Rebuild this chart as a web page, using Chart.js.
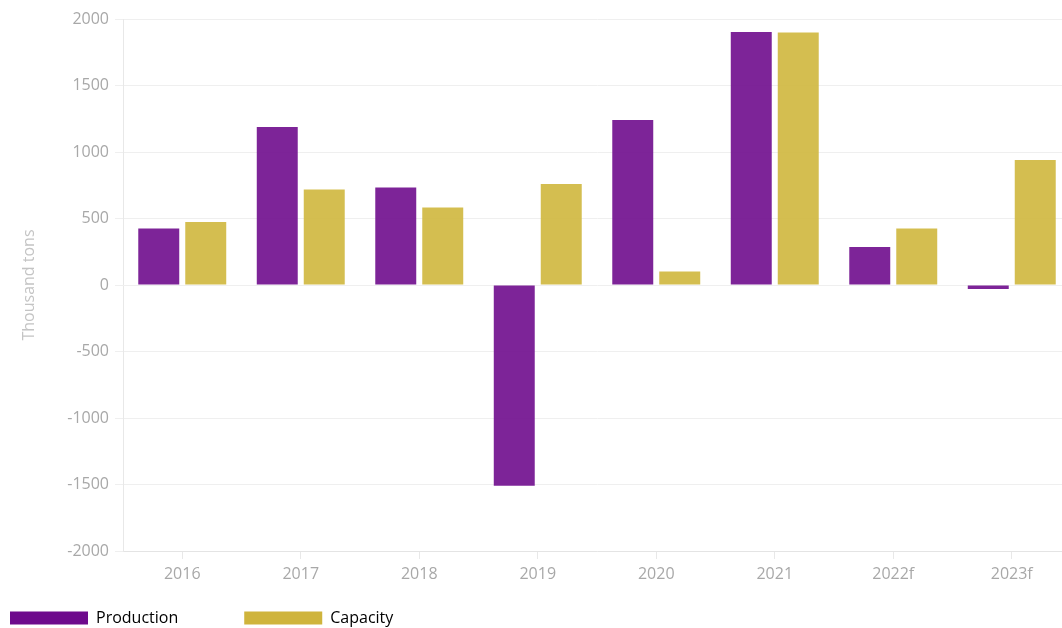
<!DOCTYPE html>
<html>
<head>
<meta charset="utf-8">
<script src="https://cdn.jsdelivr.net/npm/chart.js@4.4.0/dist/chart.umd.min.js"></script>
<style>
  html, body { margin: 0; padding: 0; overflow: hidden; background: #fff; width: 1062px; height: 628px; }
  #wrap { width: 1072px; height: 636px; position: relative; }
</style>
</head>
<body>
<div id="wrap"><canvas id="c" width="1072" height="636"></canvas></div>
<script>
const categories = ['2016', '2017', '2018', '2019', '2020', '2021', '2022f', '2023f'];
const production = [425, 1188, 733, -1510, 1240, 1903, 285, -30];
const capacity = [474, 718, 583, 760, 101, 1898, 425, 940];
const yTicks = [-2000, -1500, -1000, -500, 0, 500, 1000, 1500, 2000];
const seriesNames = ['Production', 'Capacity'];
const yTitle = 'Thousand tons';

const FONT = "'Open Sans', 'Lato', sans-serif";
const barColors = ['rgba(111,12,141,0.9)', 'rgba(207,183,61,0.9)'];
const legendColors = ['#6e0a8c', '#cfb43c'];

new Chart(document.getElementById('c'), {
  type: 'bar',
  data: {
    labels: categories,
    datasets: [
      { label: seriesNames[0], data: production, backgroundColor: barColors[0], categoryPercentage: 0.793, barPercentage: 0.872 },
      { label: seriesNames[1], data: capacity, backgroundColor: barColors[1], categoryPercentage: 0.793, barPercentage: 0.872 }
    ]
  },
  options: {
    responsive: false,
    animation: false,
    layout: { padding: { top: 19, right: 1, bottom: 0, left: 0 } },
    plugins: {
      tooltip: { enabled: false },
      legend: {
        position: 'bottom',
        align: 'start',
        labels: {
          boxWidth: 78,
          boxHeight: 13,
          useBorderRadius: true,
          borderRadius: 3,
          padding: 10,
          color: '#9a9a9a',
          font: { family: FONT, size: 16 },
          generateLabels: (chart) => chart.data.datasets.map((ds, i) => ({
            text: i === 0 ? ds.label + '\u2003\u2003\u2003\u2002' : ds.label,
            fillStyle: legendColors[i],
            strokeStyle: legendColors[i],
            lineWidth: 0,
            hidden: false,
            datasetIndex: i
          }))
        }
      }
    },
    scales: {
      x: {
        offset: true,
        grid: { display: true, offset: false, drawOnChartArea: false, drawTicks: true, tickLength: 8, color: '#e8e8e8' },
        border: { display: true, color: '#e4e4e4' },
        ticks: { color: '#a8a8a8', font: { family: FONT, size: 16 }, padding: 6, maxRotation: 0 },
        afterFit: (s) => { s.height = 49; }
      },
      y: {
        min: -2000,
        max: 2000,
        afterBuildTicks: (s) => { s.ticks = yTicks.map(v => ({ value: v })); },
        grid: { color: '#efefef', tickLength: 8 },
        border: { display: true, color: '#e8e8e8' },
        ticks: { color: '#a8a8a8', font: { family: FONT, size: 16 }, padding: 6, callback: (v) => String(v) },
        title: { display: true, text: yTitle, color: '#c4c4c4', font: { family: FONT, size: 16 }, padding: { top: 20, bottom: 0 } },
        afterFit: (s) => { s.width = 123; }
      }
    }
  }
});
</script>
</body>
</html>
